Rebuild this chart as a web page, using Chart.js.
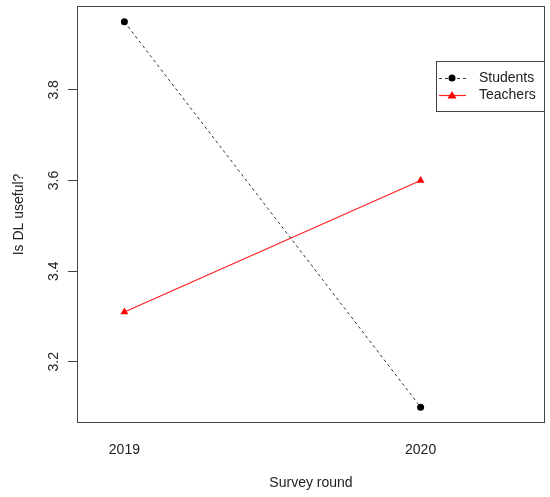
<!DOCTYPE html>
<html>
<head>
    <meta charset="utf-8">
    <title>Is DL useful?</title>
    <script src="https://cdn.jsdelivr.net/npm/chart.js"></script>
    <style>
        body { margin: 0; background: #fff; }
        #chart { display: block; }
    </style>
</head>
<body>
    <canvas id="chart" width="550" height="497"></canvas>
    <script>
        // data
        var rounds = [2019, 2020];
        var students = [3.95, 3.10];
        var teachers = [3.31, 3.60];
        var yTicks = [3.2, 3.4, 3.6, 3.8];
        var seriesNames = ['Students', 'Teachers'];

        var font = "'Liberation Sans', Arial, Helvetica, sans-serif";
        var ink = '#222';

        function toPoints(ys) {
            return rounds.map(function (x, i) { return { x: x, y: ys[i] }; });
        }

        // R style box + legend
        var rFrame = {
            id: 'rFrame',
            afterDraw: function (chart) {
                var ctx = chart.ctx, a = chart.chartArea;
                ctx.save();
                ctx.strokeStyle = '#444';
                ctx.lineWidth = 1;
                ctx.strokeRect(Math.round(a.left) + 0.5, Math.round(a.top) + 0.5,
                    Math.round(a.right - a.left) - 1, Math.round(a.bottom - a.top) - 1);

                // legend
                var lx = 436, ly = 61, lw = 109, lh = 51;
                ctx.fillStyle = '#fff';
                ctx.fillRect(lx, ly, lw, lh);
                ctx.strokeRect(lx + 0.5, ly + 0.5, lw - 1, lh - 1);
                var rows = [78, 95];
                chart.data.datasets.forEach(function (ds, i) {
                    var y = rows[i];
                    ctx.strokeStyle = ds.borderColor;
                    ctx.lineWidth = ds.borderWidth;
                    ctx.fillStyle = ds.pointBackgroundColor;
                    ctx.setLineDash(ds.borderDash || []);
                    ctx.beginPath();
                    ctx.moveTo(439, y + 0.5);
                    ctx.lineTo(466, y + 0.5);
                    ctx.stroke();
                    ctx.setLineDash([]);
                    ctx.beginPath();
                    if (ds.pointStyle === 'triangle') {
                        ctx.moveTo(452, y - 4);
                        ctx.lineTo(456.5, y + 3.5);
                        ctx.lineTo(447.5, y + 3.5);
                        ctx.closePath();
                    } else {
                        ctx.arc(452, y, 3.5, 0, Math.PI * 2);
                    }
                    ctx.fill();
                    ctx.fillStyle = ink;
                    ctx.font = '14px ' + font;
                    ctx.textBaseline = 'middle';
                    ctx.textAlign = 'left';
                    ctx.fillText(ds.label, 479, y);
                });
                ctx.restore();
            }
        };

        new Chart(document.getElementById('chart'), {
            type: 'line',
            data: {
                datasets: [{
                    label: seriesNames[0],
                    data: toPoints(students),
                    borderColor: '#333',
                    borderWidth: 1,
                    borderDash: [3, 3],
                    pointStyle: 'circle',
                    pointRadius: 3.5,
                    pointBackgroundColor: '#000',
                    pointBorderColor: '#000',
                    pointBorderWidth: 0
                }, {
                    label: seriesNames[1],
                    data: toPoints(teachers),
                    borderColor: '#ff2020',
                    borderWidth: 1.2,
                    pointStyle: 'triangle',
                    pointRadius: 4.5,
                    pointBackgroundColor: '#ff0000',
                    pointBorderColor: '#ff0000',
                    pointBorderWidth: 0
                }]
            },
            options: {
                responsive: false,
                animation: false,
                devicePixelRatio: 1,
                layout: { padding: { left: 0, right: 5, top: 6, bottom: 0 } },
                plugins: {
                    legend: { display: false },
                    tooltip: { enabled: false }
                },
                scales: {
                    x: {
                        type: 'linear',
                        min: 2018.84,
                        max: 2020.42,
                        afterBuildTicks: function (scale) {
                            scale.ticks = rounds.map(function (v) { return { value: v }; });
                        },
                        afterFit: function (scale) {
                            scale.height = 74;
                            scale.paddingLeft = 0;
                            scale.paddingRight = 0;
                        },
                        grid: { display: false, drawTicks: false },
                        border: { display: false },
                        ticks: {
                            padding: 19,
                            color: ink,
                            font: { family: font, size: 14 },
                            maxRotation: 0,
                            callback: function (v) { return String(v); }
                        },
                        title: {
                            display: true,
                            text: 'Survey round',
                            color: ink,
                            font: { family: font, size: 14 },
                            padding: { top: 0, bottom: 5 }
                        }
                    },
                    y: {
                        min: 3.065,
                        max: 3.985,
                        afterBuildTicks: function (scale) {
                            scale.ticks = yTicks.map(function (v) { return { value: v }; });
                        },
                        afterFit: function (scale) {
                            scale.width = 77;
                            scale.paddingTop = 0;
                            scale.paddingBottom = 0;
                        },
                        grid: {
                            display: true,
                            drawOnChartArea: false,
                            drawTicks: true,
                            tickLength: 9,
                            color: '#444'
                        },
                        border: { display: false },
                        ticks: {
                            padding: 4,
                            color: ink,
                            font: { family: font, size: 14 },
                            minRotation: 90,
                            maxRotation: 90,
                            crossAlign: 'center',
                            callback: function (v) { return v.toFixed(1); }
                        },
                        title: {
                            display: true,
                            text: 'Is DL useful?',
                            color: ink,
                            font: { family: font, size: 14 },
                            padding: { top: 11, bottom: 0 }
                        }
                    }
                }
            },
            plugins: [rFrame]
        });
    </script>
</body>
</html>
